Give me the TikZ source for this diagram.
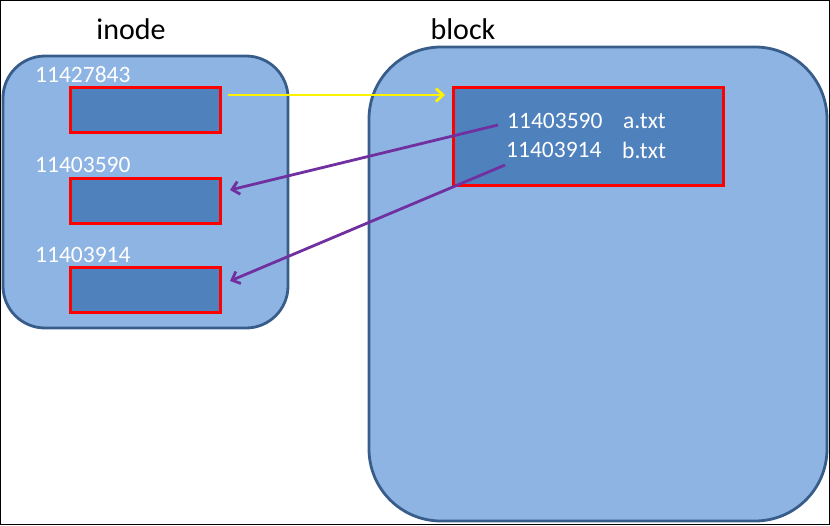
\documentclass[tikz,border=0pt]{standalone}
\usepackage{fontspec}
\setmainfont{Carlito}
\usetikzlibrary{arrows.meta}
\begin{document}
\begin{tikzpicture}[x=1pt,y=-1pt,
  bigbox/.style={draw=boxline,fill=boxfill,line width=2.8pt},
  slot/.style={draw=red,fill=slotfill,line width=3pt},
  lbl/.style={text=white,font=\fontsize{23.5}{26}\selectfont,inner sep=0pt,anchor=west},
  title/.style={font=\fontsize{30}{34}\selectfont,inner sep=0pt},
  yarrow/.style={draw=yellow,line width=2.8pt,-{Straight Barb[length=7pt,width=13pt]}},
  parrow/.style={draw=arrowpurple,line width=2.8pt,-{Straight Barb[length=7pt,width=13pt]}}]
\definecolor{boxfill}{RGB}{142,180,227}
\definecolor{boxline}{RGB}{56,93,138}
\definecolor{slotfill}{RGB}{79,129,189}
\definecolor{arrowpurple}{RGB}{112,48,160}
\path[use as bounding box] (0,0) rectangle (830,525);
\draw[black,line width=1.4pt] (0.7,0.7) rectangle (829.3,524.3);
% titles
\node[title] (tinode) at (131,29) {inode};
\node[title] (tblock) at (463,29) {block};
% big boxes
\draw[bigbox,rounded corners=42pt] (3,56) rectangle (288,328);
\draw[bigbox,rounded corners=72pt] (369,47) rectangle (827,521);
% inode slots
\node[slot,minimum width=150pt,minimum height=45pt,inner sep=0pt,anchor=north west] (s1) at (69,86) {};
\node[slot,minimum width=150pt,minimum height=45pt,inner sep=0pt,anchor=north west] (s2) at (69,177) {};
\node[slot,minimum width=150pt,minimum height=45pt,inner sep=0pt,anchor=north west] (s3) at (69,266) {};
\node[lbl] (l1) at (35,75) {11427843};
\node[lbl] (l2) at (35,165) {11403590};
\node[lbl] (l3) at (35,255) {11403914};
% block slot
\node[slot,minimum width=270pt,minimum height=98pt,inner sep=0pt,anchor=north west] (b1) at (452,86) {};
\node[lbl] (e1) at (507,121) {11403590};
\node[lbl] (f1) at (623,121) {a.txt};
\node[lbl] (e2) at (506,150) {11403914};
\node[lbl] (f2) at (622,150) {b.txt};
% arrows
\coordinate (ys) at (228,95);
\coordinate (ye) at (445,95);
\draw[yarrow] (ys) -- (ye);
\coordinate (p1s) at (498,125);
\coordinate (p1e) at (230,190);
\coordinate (p2s) at (505,165);
\coordinate (p2e) at (230,281);
\draw[parrow] (p1s) -- (p1e);
\draw[parrow] (p2s) -- (p2e);
\end{tikzpicture}
\end{document}
